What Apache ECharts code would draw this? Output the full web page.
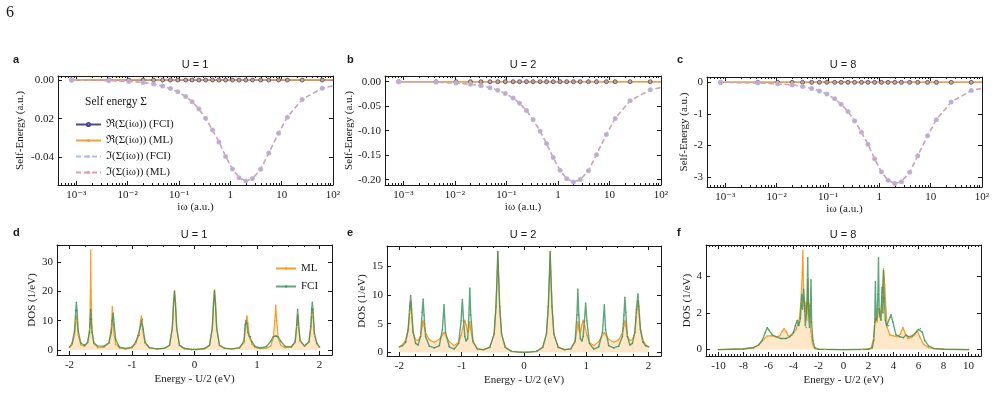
<!DOCTYPE html>
<html>
<head>
<meta charset="utf-8">
<script src="https://cdn.jsdelivr.net/npm/echarts@6/dist/echarts.min.js"></script>
<style>
  html, body { margin: 0; padding: 0; background: #fff; }
  #main { width: 995px; height: 416px; }
</style>
</head>
<body>
<div id="main"></div>
<script>
// ---- data ----
// Matsubara frequencies (a.u.) of the self-energy points
const omega = [0.00081, 0.0043, 0.0105, 0.020, 0.032, 0.048, 0.068, 0.095, 0.135, 0.18, 0.245, 0.33, 0.45,
  0.60, 0.81, 1.10, 1.48, 2.0, 2.7, 3.9, 5.6, 8.7, 12.9, 25.1, 61.7, 100];
// real parts sit on zero in every panel
const reSigmaFci = [0, 0, 0, 0, 0, 0, 0, 0, 0, 0, 0, 0, 0, 0, 0, 0, 0, 0, 0, 0, 0, 0, 0, 0, 0, 0];
const reSigmaMl = [0, 0, 0, 0, 0, 0, 0, 0, 0, 0, 0, 0, 0, 0, 0, 0, 0, 0, 0, 0, 0, 0, 0, 0, 0, 0];
// imaginary parts (FCI and ML overlap)
const imSigmaU1 = [0, -0.0003, -0.0007, -0.0013, -0.0021, -0.0031, -0.0044, -0.0061, -0.0085, -0.0112, -0.0150, -0.0198,
  -0.0258, -0.0320, -0.0395, -0.0460, -0.0505, -0.0522, -0.0510, -0.0462, -0.0378, -0.0275, -0.0192, -0.0100, -0.0042, -0.0030];
const imSigmaU2 = [0, -0.0012, -0.0028, -0.0051, -0.0083, -0.0122, -0.0173, -0.024, -0.0334, -0.044, -0.059, -0.078,
  -0.101, -0.126, -0.155, -0.181, -0.198, -0.205, -0.200, -0.182, -0.149, -0.108, -0.075, -0.039, -0.0165, -0.012];
const imSigmaU8 = [0, -0.02, -0.045, -0.08, -0.13, -0.19, -0.27, -0.37, -0.52, -0.69, -0.92, -1.22,
  -1.58, -1.96, -2.42, -2.83, -3.10, -3.20, -3.14, -2.84, -2.32, -1.69, -1.18, -0.62, -0.26, -0.19];

// DOS, U = 1
const energyU1 = [-2.00, -1.96, -1.92, -1.90, -1.89, -1.88, -1.86, -1.82, -1.76, -1.71, -1.68, -1.665, -1.66, -1.655, -1.64,
  -1.61, -1.55, -1.45, -1.37, -1.33, -1.315, -1.30, -1.285, -1.26, -1.20, -1.10, -1.00, -0.94, -0.905, -0.885, -0.865,
  -0.85, -0.835, -0.82, -0.79, -0.72, -0.60, -0.48, -0.40, -0.355, -0.335, -0.32, -0.305, -0.285, -0.24, -0.16, -0.05,
  0.05, 0.16, 0.24, 0.285, 0.305, 0.32, 0.335, 0.355, 0.40, 0.48, 0.60, 0.72, 0.79, 0.81, 0.825, 0.84, 0.855, 0.875,
  0.895, 0.92, 0.97, 1.05, 1.15, 1.22, 1.26, 1.285, 1.30, 1.315, 1.34, 1.38, 1.45, 1.55, 1.61, 1.635, 1.65, 1.665,
  1.69, 1.76, 1.83, 1.86, 1.875, 1.885, 1.895, 1.92, 1.96, 2.00];
const dosMlU1 = [0.9, 1.8, 5.0, 10, 11.9, 10, 5.0, 1.8, 1.2, 2.5, 7, 20, 34.1, 20, 7,
  2.2, 0.8, 0.9, 2.4, 8, 14.8, 10, 5, 2, 0.7, 0.4, 0.8, 2.2, 4.5, 5.5, 9.5,
  11.6, 10, 5.5, 2.2, 0.7, 0.35, 0.6, 1.6, 7.5, 16, 20.2, 16, 7.5, 1.6, 0.5, 0.2,
  0.2, 0.5, 1.6, 7.5, 16, 20.5, 16, 7.5, 1.6, 0.6, 0.35, 0.7, 2.4, 6, 10, 11.6, 9, 5,
  3.5, 2, 0.9, 0.5, 0.6, 1.4, 4, 10, 15.3, 10, 4, 1.6, 0.8, 1.0, 2.6, 8, 12.5, 8,
  3, 1.3, 2.6, 7, 12, 14.4, 12, 5, 2, 1.0];
const dosFciU1 = [1.0, 2.2, 6.5, 13.5, 16.3, 13.5, 6.5, 2.4, 1.6, 2.6, 6, 10.5, 13.9, 10.5, 6,
  2.4, 1.4, 1.3, 2.4, 6, 10, 12.5, 8.5, 3.5, 1.0, 0.5, 1.0, 2.8, 4.8, 5, 8,
  10, 10.5, 7, 2.6, 0.8, 0.4, 0.6, 1.6, 7.5, 16, 20, 16, 7.5, 1.6, 0.5, 0.2,
  0.2, 0.5, 1.6, 7.5, 16, 20.2, 16, 7.5, 1.6, 0.6, 0.4, 0.8, 3, 8.5, 10, 9, 6, 4.8,
  4.6, 2.8, 1.2, 0.7, 1.1, 3.0, 4.5, 4.7, 4.8, 4.7, 4.4, 3, 1.2, 1.1, 2.8, 8.5, 13.9, 9,
  3.2, 1.4, 2.8, 8, 14, 16.3, 14, 5.5, 2.2, 1.0];

// DOS, U = 2
const energyU2 = [-2.00, -1.95, -1.90, -1.86, -1.835, -1.82, -1.805, -1.78, -1.74, -1.70, -1.66, -1.635, -1.62, -1.605,
  -1.58, -1.52, -1.44, -1.36, -1.31, -1.285, -1.26, -1.20, -1.12, -1.05, -1.01, -0.99, -0.97, -0.95, -0.93, -0.905,
  -0.885, -0.87, -0.855, -0.82, -0.75, -0.65, -0.55, -0.48, -0.45, -0.43, -0.42, -0.41, -0.39, -0.36, -0.30, -0.20, -0.05,
  0.05, 0.20, 0.30, 0.36, 0.39, 0.41, 0.42, 0.43, 0.45, 0.48, 0.55, 0.65, 0.75, 0.82, 0.85, 0.865, 0.88, 0.905, 0.93,
  0.95, 0.97, 0.99, 1.01, 1.05, 1.12, 1.20, 1.26, 1.29, 1.31, 1.36, 1.44, 1.52, 1.58, 1.605, 1.62, 1.635, 1.66, 1.70,
  1.74, 1.78, 1.805, 1.83, 1.845, 1.87, 1.91, 1.95, 2.00];
const dosMlU2 = [1.0, 1.4, 2.2, 4.0, 7.0, 9.2, 6.5, 3.5, 2.2, 2.1, 3.0, 4.6, 5.6, 4.6,
  3.4, 2.2, 1.8, 2.3, 3.1, 3.5, 3.0, 1.9, 1.2, 1.8, 3.0, 4.0, 5.0, 5.6, 4.8, 3.4,
  4.0, 5.4, 4.0, 1.8, 0.7, 0.5, 0.9, 3.2, 8.0, 14, 17.5, 14, 8.0, 3.2, 0.9, 0.2, 0.05,
  0.05, 0.2, 0.9, 3.2, 8.0, 14, 17.5, 14, 8.0, 3.2, 0.9, 0.5, 0.7, 1.8, 4.0, 5.4, 4.0, 3.4, 4.8,
  5.6, 5.0, 4.0, 3.0, 1.8, 1.2, 1.9, 3.0, 3.5, 3.1, 2.3, 1.8, 2.2, 3.4, 4.6, 5.6, 4.6, 3.0, 2.1,
  2.2, 3.5, 6.5, 9.2, 7.0, 4.0, 2.2, 1.4, 1.0];
const dosFciU2 = [1.0, 1.2, 1.8, 4.0, 8.0, 9.9, 7.5, 3.5, 1.6, 1.3, 2.8, 7.0, 9.3, 6.5,
  2.8, 1.1, 0.8, 1.2, 4.0, 8.3, 3.5, 1.0, 0.6, 1.6, 5.5, 9.2, 5.5, 2.8, 2.0, 2.4,
  6.5, 11.2, 6.5, 2.0, 0.6, 0.5, 0.9, 3.2, 8.0, 14, 17.5, 14, 8.0, 3.2, 0.9, 0.2, 0.05,
  0.05, 0.2, 0.9, 3.2, 8.0, 14, 17.5, 14, 8.0, 3.2, 0.9, 0.5, 0.6, 2.0, 6.5, 11.05, 6.5, 2.4, 2.0,
  2.8, 5.5, 8.6, 5.5, 1.6, 0.6, 1.0, 3.5, 8.3, 4.0, 1.2, 0.8, 1.1, 2.8, 6.5, 9.6, 7.0, 2.8, 1.3,
  1.6, 3.5, 7.5, 10.2, 8.0, 4.0, 1.8, 1.2, 1.0];

// DOS, U = 8 (ML and FCI sampled separately)
const energyMlU8 = [-10, -8, -7.2, -6.8, -6.4, -6.1, -5.8, -5.4, -5.1, -4.9, -4.75, -4.6, -4.4, -4.1, -3.8, -3.55,
  -3.4, -3.3, -3.25, -3.2, -3.1, -3.0, -2.93, -2.85, -2.78, -2.7, -2.62, -2.5, -2.4, -2.2, -1.5, 0, 1.5, 2.2,
  2.4, 2.5, 2.6, 2.7, 2.8, 2.9, 3.0, 3.1, 3.2, 3.3, 3.4, 3.5, 3.7, 4.0, 4.3, 4.55, 4.75, 4.95, 5.15, 5.4,
  5.7, 5.9, 6.1, 6.4, 6.8, 7.2, 8, 10];
const dosMlU8 = [0, 0.05, 0.12, 0.25, 0.55, 0.75, 0.75, 0.7, 0.75, 1.0, 1.15, 1.0, 0.72, 0.8, 1.1, 1.6,
  2.6, 4.2, 5.4, 3.5, 2.0, 2.6, 1.6, 3.9, 2.0, 2.5, 1.0, 0.4, 0.15, 0.03, 0.01, 0, 0.01, 0.05,
  0.6, 1.4, 1.8, 1.5, 2.3, 1.8, 2.2, 3.0, 4.4, 3.5, 2.2, 1.2, 0.8, 0.75, 0.7, 0.85, 1.2, 0.85, 0.6, 0.65,
  0.8, 1.05, 0.7, 0.3, 0.1, 0.06, 0.03, 0];
const energyFciU8 = [-10, -8, -7.2, -6.8, -6.5, -6.25, -6.1, -5.95, -5.7, -5.4, -5.0, -4.6, -4.3, -4.0, -3.85, -3.7,
  -3.58, -3.45, -3.35, -3.28, -3.2, -3.12, -3.05, -2.98, -2.92, -2.86, -2.8, -2.72, -2.65, -2.6, -2.55, -2.45, -2.3,
  -2.0, 0, 2.0, 2.3, 2.42, 2.5, 2.55, 2.6, 2.68, 2.75, 2.8, 2.85, 2.92, 3.0, 3.08, 3.15, 3.2, 3.26, 3.35, 3.45,
  3.6, 3.8, 3.95, 4.2, 4.5, 4.8, 5.0, 5.2, 5.5, 5.8, 6.0, 6.15, 6.3, 6.5, 6.8, 7.2, 8, 10];
const dosFciU8 = [0, 0.03, 0.1, 0.25, 0.5, 0.95, 1.2, 1.05, 0.8, 0.7, 0.6, 0.6, 0.7, 0.95, 1.3, 1.6,
  1.3, 1.7, 3.0, 2.2, 3.3, 2.4, 1.3, 1.2, 2.5, 5.0, 2.0, 1.2, 2.4, 3.8, 1.5, 0.5, 0.1,
  0.02, 0, 0.02, 0.1, 0.5, 1.5, 3.7, 1.6, 1.8, 3.0, 5.0, 2.2, 1.8, 1.6, 3.4, 2.0, 4.3, 2.8, 1.6, 1.3,
  1.3, 1.9, 1.5, 0.8, 0.7, 0.65, 0.8, 0.7, 0.75, 0.95, 1.1, 1.15, 0.95, 0.5, 0.2, 0.06, 0.02, 0];

// tick values and their labels
const logTicks = [0.001, 0.01, 0.1, 1, 10, 100];
const logTickText = ['10⁻³', '10⁻²', '10⁻¹', '1', '10', '10²'];
const seTicksU1 = [-0.04, -0.02, 0];
const seTickTextU1 = ['-0.04', '0.02', '0.00'];
const seTicksU2 = [-0.20, -0.15, -0.10, -0.05, 0];
const seTickTextU2 = ['-0.20', '-0.15', '-0.10', '-0.05', '0.00'];
const seTicksU8 = [-3, -2, -1, 0];
const seTickTextU8 = ['-3', '-2', '-1', '0'];
const eTicks = [-2, -1, 0, 1, 2];
const eTicksU8 = [-10, -8, -6, -4, -2, 0, 2, 4, 6, 8, 10];
const dosTicksU1 = [0, 10, 20, 30];
const dosTicksU2 = [0, 5, 10, 15];
const dosTicksU8 = [0, 2, 4];

// ---- styling ----
const INK = '#1a1a1a';
const SERIF = "'Liberation Serif', 'DejaVu Serif', serif";
const SANS = "'Liberation Sans', 'DejaVu Sans', sans-serif";
const C_RE_FCI = '#4a4a8e';
const C_RE_ML = '#f5a13c';
const C_IM_FCI = '#a9bff2';
const C_IM_ML = '#e79ca3';
const C_ML = '#ff9a22';
const C_FCI = 'rgba(52,145,92,0.8)';

const grids = [
  { left: 58, top: 76, width: 275, height: 109 },   // a
  { left: 385, top: 76, width: 276, height: 109 },  // b
  { left: 707, top: 77, width: 275, height: 110 },  // c
  { left: 57, top: 245, width: 275, height: 110 },  // d
  { left: 387, top: 246, width: 274, height: 110 }, // e
  { left: 706, top: 245, width: 275, height: 111 }  // f
];

function fmtFrom(ticks, texts) {
  return function (v) {
    const i = ticks.findIndex(t => t === v || Math.abs(t - v) <= 1e-6 * Math.max(Math.abs(t), 1e-3));
    return i >= 0 ? texts[i] : '';
  };
}

function stepTicks(from, to, step) {
  const out = [];
  for (let v = from; v <= to + 1e-9; v += step) out.push(Math.round(v * 1000) / 1000);
  return out;
}

function logMinor(min, max) {
  const out = [];
  for (let k = -4; k <= 2; k++) {
    for (let m = 2; m <= 9; m++) {
      const v = m * Math.pow(10, k);
      if (v > min && v < max) out.push(v);
    }
  }
  return out;
}

const xAxes = [];
const yAxes = [];

function addAxes(gi, c) {
  const line = { show: true, onZero: false, lineStyle: { color: INK, width: 1 } };
  const noLine = { show: false, onZero: false };
  const tick = (vals, len) => ({ show: true, inside: true, length: len, customValues: vals, lineStyle: { color: INK, width: 1 } });
  const xBase = { gridIndex: gi, type: c.xType, min: c.xMin, max: c.xMax, splitLine: { show: false } };
  if (c.xType === 'log') xBase.logBase = 10;
  const xi = xAxes.length;
  xAxes.push(Object.assign({}, xBase, {
    position: 'bottom', axisLine: line, axisTick: tick(c.xMajor, 4),
    axisLabel: { show: true, customValues: c.xMajor, formatter: c.xFmt, color: INK, fontFamily: SERIF, fontSize: 11, margin: 5 },
    name: c.xName, nameLocation: 'middle', nameGap: c.xGap,
    nameTextStyle: { fontFamily: SERIF, fontSize: 11, color: INK }
  }));
  xAxes.push(Object.assign({}, xBase, { position: 'top', axisLine: line, axisTick: tick(c.xMajor, 4), axisLabel: { show: false } }));
  if (c.xMinor) {
    xAxes.push(Object.assign({}, xBase, { position: 'bottom', axisLine: noLine, axisTick: tick(c.xMinor, 2), axisLabel: { show: false } }));
    xAxes.push(Object.assign({}, xBase, { position: 'top', axisLine: noLine, axisTick: tick(c.xMinor, 2), axisLabel: { show: false } }));
  }
  const yBase = { gridIndex: gi, type: 'value', min: c.yMin, max: c.yMax, splitLine: { show: false } };
  const yi = yAxes.length;
  yAxes.push(Object.assign({}, yBase, {
    position: 'left', axisLine: line, axisTick: tick(c.yMajor, 4),
    axisLabel: { show: true, customValues: c.yMajor, formatter: c.yFmt, color: INK, fontFamily: SERIF, fontSize: 11, margin: 4 },
    name: c.yName, nameLocation: 'middle', nameGap: c.yGap,
    nameTextStyle: { fontFamily: SERIF, fontSize: 11, color: INK }
  }));
  yAxes.push(Object.assign({}, yBase, { position: 'right', axisLine: line, axisTick: tick(c.yMajor, 4), axisLabel: { show: false } }));
  return { x: xi, y: yi };
}

const LOG_MIN = 0.00044, LOG_MAX = 100;
const logFmt = fmtFrom(logTicks, logTickText);
const numFmt = v => String(v);

const axA = addAxes(0, { xType: 'log', xMin: LOG_MIN, xMax: LOG_MAX, xMajor: logTicks, xMinor: logMinor(LOG_MIN, LOG_MAX), xFmt: logFmt, xName: 'iω (a.u.)', xGap: 17,
  yMin: -0.0543, yMax: 0.0021, yMajor: seTicksU1, yFmt: fmtFrom(seTicksU1, seTickTextU1), yName: 'Self-Energy (a.u.)', yGap: 32 });
const axB = addAxes(1, { xType: 'log', xMin: LOG_MIN, xMax: LOG_MAX, xMajor: logTicks, xMinor: logMinor(LOG_MIN, LOG_MAX), xFmt: logFmt, xName: 'iω (a.u.)', xGap: 17,
  yMin: -0.211, yMax: 0.0116, yMajor: seTicksU2, yFmt: fmtFrom(seTicksU2, seTickTextU2), yName: 'Self-Energy (a.u.)', yGap: 29 });
const axC = addAxes(2, { xType: 'log', xMin: LOG_MIN, xMax: LOG_MAX, xMajor: logTicks, xMinor: logMinor(LOG_MIN, LOG_MAX), xFmt: logFmt, xName: 'iω (a.u.)', xGap: 17,
  yMin: -3.31, yMax: 0.17, yMajor: seTicksU8, yFmt: fmtFrom(seTicksU8, seTickTextU8), yName: 'Self-Energy (a.u.)', yGap: 17 });
const axD = addAxes(3, { xType: 'value', xMin: -2.2, xMax: 2.2, xMajor: eTicks, xMinor: stepTicks(-2, 2, 0.25), xFmt: numFmt, xName: 'Energy - U/2 (eV)', xGap: 19,
  yMin: -1.7, yMax: 35.8, yMajor: dosTicksU1, yFmt: numFmt, yName: 'DOS (1/eV)', yGap: 19 });
const axE = addAxes(4, { xType: 'value', xMin: -2.2, xMax: 2.2, xMajor: eTicks, xMinor: stepTicks(-2, 2, 0.25), xFmt: numFmt, xName: 'Energy - U/2 (eV)', xGap: 19,
  yMin: -0.6, yMax: 18.5, yMajor: dosTicksU2, yFmt: numFmt, yName: 'DOS (1/eV)', yGap: 19 });
const axF = addAxes(5, { xType: 'value', xMin: -11, xMax: 11, xMajor: eTicksU8, xMinor: stepTicks(-11, 11, 0.25), xFmt: numFmt, xName: 'Energy - U/2 (eV)', xGap: 19,
  yMin: -0.35, yMax: 5.7, yMajor: dosTicksU8, yFmt: numFmt, yName: 'DOS (1/eV)', yGap: 13 });

const NAME_RE_FCI = 'ℜ(Σ(iω)) (FCI)';
const NAME_RE_ML = 'ℜ(Σ(iω)) (ML)';
const NAME_IM_FCI = 'ℑ(Σ(iω)) (FCI)';
const NAME_IM_ML = 'ℑ(Σ(iω)) (ML)';

// last point (omega = 100) only continues the line, no marker
function sePoints(vals) {
  return omega.map((w, i) => i === omega.length - 1 ? { value: [w, vals[i]], symbol: 'none' } : [w, vals[i]]);
}

function selfEnergySeries(ax, im) {
  const common = { type: 'line', xAxisIndex: ax.x, yAxisIndex: ax.y, silent: true };
  return [
    Object.assign({}, common, { name: NAME_RE_FCI, data: sePoints(reSigmaFci), symbol: 'circle', symbolSize: 4,
      lineStyle: { color: C_RE_FCI, width: 1.2 }, itemStyle: { color: '#8e8ec8', borderColor: C_RE_FCI, borderWidth: 0.8 } }),
    Object.assign({}, common, { name: NAME_RE_ML, data: sePoints(reSigmaMl), symbol: 'circle', symbolSize: 2.5,
      lineStyle: { color: C_RE_ML, width: 1.5 }, itemStyle: { color: C_RE_ML } }),
    Object.assign({}, common, { name: NAME_IM_FCI, data: sePoints(im), symbol: 'circle', symbolSize: 5,
      lineStyle: { color: C_IM_FCI, width: 1.5, type: [5, 3] }, itemStyle: { color: C_IM_FCI } }),
    Object.assign({}, common, { name: NAME_IM_ML, data: sePoints(im), symbol: 'circle', symbolSize: 3,
      lineStyle: { color: C_IM_ML, width: 1.2, type: [5, 3] }, itemStyle: { color: C_IM_ML } })
  ];
}

function zip(xs, ys) { return xs.map((x, i) => [x, ys[i]]); }

function dosSeries(ax, eMl, ml, eFci, fci) {
  const common = { type: 'line', xAxisIndex: ax.x, yAxisIndex: ax.y, silent: true, symbol: 'circle', symbolSize: 1.5 };
  return [
    Object.assign({}, common, { name: 'ML', data: zip(eMl, ml),
      lineStyle: { color: C_ML, width: 1.2 }, itemStyle: { color: C_ML },
      areaStyle: { color: 'rgba(255,158,40,0.36)', origin: 0 } }),
    Object.assign({}, common, { name: 'FCI', data: zip(eFci, fci),
      lineStyle: { color: C_FCI, width: 1.4 }, itemStyle: { color: C_FCI } })
  ];
}

const series = [].concat(
  selfEnergySeries(axA, imSigmaU1),
  selfEnergySeries(axB, imSigmaU2),
  selfEnergySeries(axC, imSigmaU8),
  dosSeries(axD, energyU1, dosMlU1, energyU1, dosFciU1),
  dosSeries(axE, energyU2, dosMlU2, energyU2, dosFciU2),
  dosSeries(axF, energyMlU8, dosMlU8, energyFciU8, dosFciU8)
);

function txt(x, y, text, font, align) {
  return { type: 'text', x: x, y: y, silent: true,
    style: { text: text, font: font, fill: INK, textAlign: align || 'center', textVerticalAlign: 'middle' } };
}

const graphics = [
  txt(6, 13, '6', '16px ' + SERIF, 'left'),
  txt(13, 60, 'a', 'bold 11px ' + SANS, 'left'),
  txt(347, 60, 'b', 'bold 11px ' + SANS, 'left'),
  txt(677, 60, 'c', 'bold 11px ' + SANS, 'left'),
  txt(13, 233, 'd', 'bold 11px ' + SANS, 'left'),
  txt(347, 233, 'e', 'bold 11px ' + SANS, 'left'),
  txt(677, 233, 'f', 'bold 11px ' + SANS, 'left'),
  txt(195, 65, 'U = 1', '11px ' + SANS),
  txt(523, 65, 'U = 2', '11px ' + SANS),
  txt(843, 65, 'U = 8', '11px ' + SANS),
  txt(194, 235, 'U = 1', '11px ' + SANS),
  txt(523, 235, 'U = 2', '11px ' + SANS),
  txt(843, 235, 'U = 8', '11px ' + SANS),
  txt(85, 102, 'Self energy Σ', '11.5px ' + SERIF, 'left')
];

const chart = echarts.init(document.getElementById('main'), null, { renderer: 'canvas' });
chart.setOption({
  animation: false,
  backgroundColor: '#ffffff',
  grid: grids,
  xAxis: xAxes,
  yAxis: yAxes,
  legend: [
    { data: [NAME_RE_FCI, NAME_RE_ML, NAME_IM_FCI, NAME_IM_ML], orient: 'vertical', left: 70, top: 114,
      itemWidth: 25, itemHeight: 4, itemGap: 5, selectedMode: false,
      textStyle: { fontFamily: SERIF, fontSize: 11, color: INK } },
    { data: ['ML', 'FCI'], orient: 'vertical', left: 270, top: 258,
      itemWidth: 20, itemHeight: 3, itemGap: 7, selectedMode: false,
      textStyle: { fontFamily: SERIF, fontSize: 11, color: INK } }
  ],
  graphic: graphics,
  series: series
});
</script>
</body>
</html>
